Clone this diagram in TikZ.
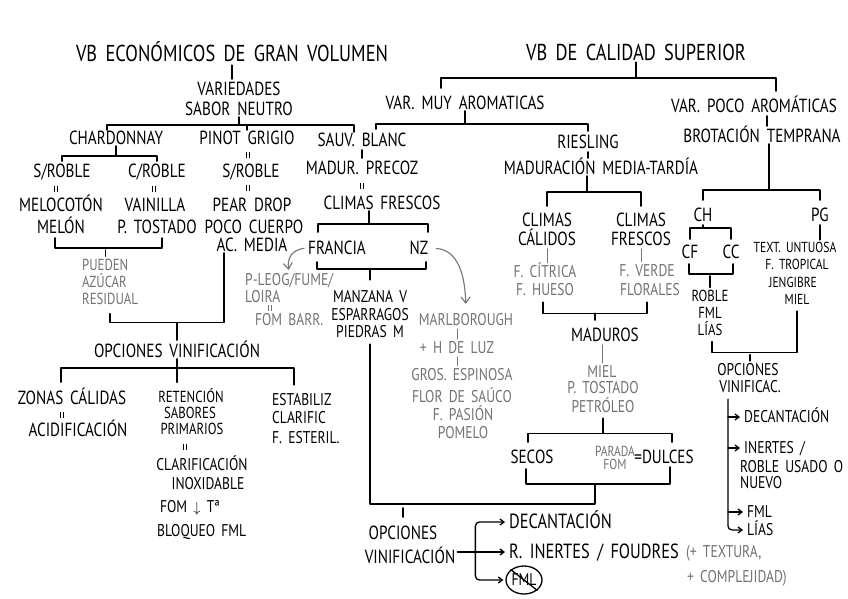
\documentclass[tikz,border=0pt]{standalone}
\usepackage{fontspec}
\setmainfont{PT Sans}[FakeStretch=0.8, WordSpace=1.7]
\usetikzlibrary{calc,shapes.geometric,arrows.meta}
\definecolor{gtxt}{gray}{0.45}
\newcommand\veqat[3][black]{\draw[#1,line width=1pt,line cap=butt] (#2-1.8,#3-3) -- (#2-1.8,#3+3) (#2+1.8,#3-3) -- (#2+1.8,#3+3);}
\tikzset{
 base/.style={inner xsep=1.5pt,inner ysep=0pt},
 ttl/.style={base,font=\fontsize{23}{26}\selectfont,text height=16pt,text depth=1pt},
 lbb/.style={base,font=\fontsize{20.5}{24}\selectfont,text height=14.5pt,text depth=1pt},
 lbl/.style={base,font=\fontsize{19}{22}\selectfont,text height=13.5pt,text depth=1pt},
 lbm/.style={base,font=\fontsize{17}{20}\selectfont,text height=12pt,text depth=1pt},
 lbs/.style={base,font=\fontsize{16}{18}\selectfont,text height=11pt,text depth=1pt},
 gl/.style={base,font=\fontsize{17}{20}\selectfont,text=gtxt,text height=12pt,text depth=1pt},
 gls/.style={base,font=\fontsize{16}{18}\selectfont,text=gtxt,text height=11pt,text depth=1pt},
 sm/.style={base,font=\fontsize{14.5}{17}\selectfont,text height=10pt,text depth=1pt},
 gsm/.style={sm,text=gtxt},
 tk/.style={shorten <=2pt,shorten >=2pt},
 gtk/.style={tk,draw=gtxt,line width=1pt},
 arr/.style={-{Straight Barb[length=4pt,width=6pt]},shorten >=2pt},
 garr/.style={draw=gtxt,line width=1.1pt,-{Straight Barb[length=6pt,width=9pt]}},
}
\begin{document}
\begin{tikzpicture}[x=1pt,y=-1pt,line width=1.3pt,line cap=round,line join=round]
\useasboundingbox (0,0) rectangle (848,599);
\fill[white] (0,0) rectangle (848,599);

% ---------- left tree ----------
\node[ttl] (t1) at (232,54) {VB ECONÓMICOS DE GRAN VOLUMEN};
\node[lbl] (v1) at (239,89) {VARIEDADES};
\node[lbl] (v2) at (239,109) {SABOR NEUTRO};
\node[lbl] (ch) at (116,138) {CHARDONNAY};
\node[lbl] (pg) at (247,138) {PINOT GRIGIO};
\node[lbl] (sb) at (362,140) {SAUV. BLANC};
\node[lbl] (sr1) at (62,171) {S/ROBLE};
\node[lbl] (cr1) at (157,171) {C/ROBLE};
\node[lbl] (sr2) at (251,171) {S/ROBLE};
\node[lbl] (me1) at (61,205) {MELOCOTÓN};
\node[lbl] (me2) at (61,227) {MELÓN};
\node[lbl] (va1) at (155,205) {VAINILLA};
\node[lbl] (va2) at (157,227) {P. TOSTADO};
\node[lbl] (pe1) at (252,205) {PEAR DROP};
\node[lbl] (pe2) at (254,227) {POCO CUERPO};
\node[lbl] (pe3) at (252,245) {AC. MEDIA};
\node[gls,anchor=west] (pu1) at (80,265) {PUEDEN};
\node[gls,anchor=west] (pu2) at (80,282) {AZÚCAR};
\node[gls,anchor=west] (pu3) at (80,299) {RESIDUAL};
\node[lbl] (ov) at (177,351) {OPCIONES VINIFICACIÓN};
\node[lbl] (zc) at (72,398) {ZONAS CÁLIDAS};
\node[lbl] (ac) at (78,430) {ACIDIFICACIÓN};
\node[lbs] (re1) at (191,397) {RETENCIÓN};
\node[lbs] (re2) at (190,413) {SABORES};
\node[lbs] (re3) at (192,429) {PRIMARIOS};
\node[lbm] (cl) at (202,465) {CLARIFICACIÓN};
\node[lbm] (inx) at (208,484) {INOXIDABLE};
\node[lbm,anchor=west] (fo) at (158,507) {FOM {\fontsize{14}{16}\selectfont$\downarrow$} Tª};
\node[lbm,anchor=west] (bl) at (155,531) {BLOQUEO FML};
\node[lbm,anchor=west] (es1) at (270,400) {ESTABILIZ};
\node[lbm,anchor=west] (es2) at (270,418) {CLARIFIC};
\node[lbm,anchor=west] (es3) at (270,438) {F. ESTERIL.};

\draw[tk] (t1.south) -- (t1.south |- v1.north);
\draw ([xshift=-9pt]ch.north) -- ++(0,-5) coordinate (b1) -| ([xshift=-8pt]sb.north);
\draw (v2.south) -- (v2.south |- b1);
\draw (pg.north |- b1) -- (pg.north);
\draw[shorten <=2pt,shorten >=2pt] (sr1.north) -- ++(0,-7) coordinate (b2) -| (cr1.north);
\draw (ch.south) -- (ch.south |- b2);
\veqat{248}{155}
\veqat{56}{189}
\veqat{154}{189}
\veqat{248}{188}
\draw[shorten <=3pt,shorten >=3pt] ([xshift=-6pt]me2.south) -- ++(0,13) coordinate (b3) -| ([xshift=5pt]va2.south);
\draw[tk] (pu1.north |- b3) -- (pu1.north);
\draw[shorten <=8pt] (pu3.south) -- ++(0,17) coordinate (b4) -| ([xshift=-28pt]pe3.south);
\draw[shorten >=3pt] (ov.north |- b4) -- (ov.north);
\draw[shorten <=8pt,shorten >=8pt] ([xshift=-11pt]zc.north) -- ++(0,-22) coordinate (b5) -| ([xshift=-8pt]es1.north);
\draw (ov.south) -- (ov.south |- b5);
\draw[shorten >=8pt] (ov.south |- b5) -- (ov.south |- re1.north);
\veqat{62}{415}
\veqat{185}{447}

% ---------- sauvignon blanc ----------
\node[lbl] (mp) at (362,168) {MADUR. PRECOZ};
\node[lbl] (cfr) at (382,203) {CLIMAS FRESCOS};
\node[lbl] (fr) at (337,248) {FRANCIA};
\node[lbl] (nz) at (419,248) {NZ};
\node[lbm] (mz1) at (370,297) {MANZANA V};
\node[lbm] (mz2) at (370,315) {ESPARRAGOS};
\node[lbm] (mz3) at (370,332) {PIEDRAS M};
\node[gl,anchor=west] (pl1) at (243,280) {P-LEOG/FUME/};
\node[gl,anchor=west] (pl2) at (243,297) {LOIRA};
\node[gl,anchor=west] (pl3) at (253,320) {FOM BARR.};
\node[gl] (mb) at (466,320) {MARLBOROUGH};
\node[gl] (hl) at (457,348) {+ H DE LUZ};
\node[gl] (ge) at (462,375) {GROS. ESPINOSA};
\node[gl] (fs) at (462,397) {FLOR DE SAÚCO};
\node[gl] (fp) at (463,415) {F. PASIÓN};
\node[gl] (po) at (463,433) {POMELO};

\draw[tk] (sb.south) -- (sb.south |- mp.north);
\veqat{362}{186}
\draw[shorten <=8pt,shorten >=8pt] ([xshift=-19pt]fr.north) -- ++(0,-16) coordinate (b6) -| ([xshift=9pt]nz.north);
\draw ([xshift=-13pt]cfr.south) -- ([xshift=-13pt]cfr.south |- b6);
\draw[shorten <=6pt,shorten >=6pt] ([xshift=-20pt]fr.south) -- ++(0,13) coordinate (b7) -| ([xshift=7pt]nz.south);
\draw[shorten >=10pt] (mz1.north |- b7) -- (mz1.north);
\veqat[gtxt]{270}{308}
\draw[garr,shorten <=2pt,shorten >=3pt] (fr.west) .. controls (292,250) and (287,258) .. (pl1.north);
\draw[garr,shorten <=6pt,shorten >=9pt] (nz.east) .. controls (458,250) and (465,275) .. (mb.north);
\draw[gtk] (hl.north |- mb.south) -- (hl.north);
\draw[gtk] (hl.south) -- (hl.south |- ge.north);

% ---------- calidad superior ----------
\node[ttl] (t2) at (636,53) {VB DE CALIDAD SUPERIOR};
\node[lbl] (vm) at (465,103) {VAR. MUY AROMATICAS};
\node[lbl] (vp) at (754,106) {VAR. POCO AROMÁTICAS};
\node[lbl] (bt) at (762,136) {BROTACIÓN TEMPRANA};
\node[lbl] (ri) at (588,142) {RIESLING};
\node[lbl] (md) at (601,168) {MADURACIÓN MEDIA-TARDÍA};
\node[lbl] (cc1) at (547,220) {CLIMAS};
\node[lbl] (cc2) at (547,239) {CÁLIDOS};
\node[lbl] (cf1) at (641,220) {CLIMAS};
\node[lbl] (cf2) at (641,239) {FRESCOS};
\node[gl] (fc1) at (545,272) {F. CÍTRICA};
\node[gl] (fc2) at (545,290) {F. HUESO};
\node[gl] (fv1) at (647,271) {F. VERDE};
\node[gl] (fv2) at (650,290) {FLORALES};
\node[lbl] (mad) at (605,335) {MADUROS};
\node[gl] (mi) at (602,372) {MIEL};
\node[gl] (pt) at (603,388) {P. TOSTADO};
\node[gl] (pet) at (603,407) {PETRÓLEO};
\node[lbl] (se) at (532,457) {SECOS};
\node[gsm] (pa1) at (615,452) {PARADA};
\node[gsm] (pa2) at (615,465) {FOM};
\node[lbl] (du) at (664,457) {=DULCES};

\draw[shorten <=7pt,shorten >=7pt] ([xshift=-24pt]vm.north) -- ++(0,-17) coordinate (b13) -| ([xshift=22pt]vp.north);
\draw (t2.south) -- (t2.south |- b13);
\draw[shorten <=3pt,shorten >=3pt] ([xshift=14pt]sb.north) -- ++(0,-8) coordinate (b14) -| (ri.north);
\draw (vm.south) -- (vm.south |- b14);
\draw[tk] (ri.south) -- (ri.south |- md.north);
\draw[shorten <=6pt,shorten >=6pt] (cc1.north) -- ++(0,-20) coordinate (b15) -| (cf1.north);
\draw ([xshift=-14pt]md.south) -- ([xshift=-14pt]md.south |- b15);
\draw[gtk] (cc2.south) -- (cc2.south |- fc1.north);
\draw[gtk] (cf2.south) -- (cf2.south |- fv1.north);
\draw[shorten <=5pt,shorten >=5pt] ([xshift=-2pt]fc2.south) -- ++(0,16) coordinate (b16) -| ([xshift=-3pt]fv2.south);
\draw[shorten >=7pt] ([xshift=-10pt]mad.north |- b16) -- ([xshift=-10pt]mad.north);
\draw[gtk] (mi.north |- mad.south) -- (mi.north);
\draw[shorten <=4pt] (pet.south) -- ++(0,19) coordinate (b17);
\draw[shorten <=7pt,shorten >=7pt] ([xshift=-4pt]se.north) -- ([xshift=-4pt]se.north |- b17) -| ([xshift=8pt]du.north);
\draw[shorten <=4pt,shorten >=2pt] ([xshift=-6pt]se.south) -- ++(0,19) coordinate (b10) -| ([xshift=6pt]du.south);
\coordinate (b11) at ($(b10)!0.5!(b10 -| du.south)$);
\path (b11) ++(0,20) coordinate (b12);
\draw[shorten <=5pt] (mz3.south) |- (b12) -- (b11);

% ---------- poco aromaticas ----------
\node[lbl] (chn) at (703,215) {CH};
\node[lbl] (pgn) at (820,215) {PG};
\node[lbl] (cfn) at (690,252) {CF};
\node[lbl] (ccn) at (731,252) {CC};
\node[lbs] (ro1) at (710,296) {ROBLE};
\node[lbs] (ro2) at (710,313) {FML};
\node[lbs] (ro3) at (710,330) {LÍAS};
\node[sm] (tx1) at (795,248) {TEXT. UNTUOSA};
\node[sm] (tx2) at (797,265) {F. TROPICAL};
\node[sm] (tx3) at (793,283) {JENGIBRE};
\node[sm] (tx4) at (797,300) {MIEL};
\node[lbm] (op1) at (748,370) {OPCIONES};
\node[lbm] (op2) at (750,387) {VINIFICAC.};
\node[lbm,anchor=west] (rd) at (742,417) {DECANTACIÓN};
\node[lbm,anchor=west] (ri1) at (742,448) {INERTES /};
\node[lbm,anchor=west] (ri2) at (738,467) {ROBLE USADO O};
\node[lbm,anchor=west] (ri3) at (738,483) {NUEVO};
\node[lbm,anchor=west] (rf) at (745,512) {FML};
\node[lbm,anchor=west] (rl) at (745,530) {LÍAS};

\draw[tk] ([xshift=13pt]vp.south) -- ([xshift=13pt]vp.south |- bt.north);
\draw[shorten <=7pt,shorten >=7pt] (chn.north) -- ++(0,-17) coordinate (b18) -| (pgn.north);
\draw ([xshift=7pt]bt.south) -- ([xshift=7pt]bt.south |- b18);
\draw[shorten <=5pt,shorten >=5pt] (cfn.north) -- ++(0,-16) coordinate (b19) -| (ccn.north);
\draw[shorten <=2pt] (chn.south) -- (chn.south |- b19);
\draw[shorten <=4pt,shorten >=4pt] ([xshift=-1pt]cfn.south) -- ++(0,14) coordinate (b20) -| ([xshift=2pt]ccn.south);
\draw[tk] (ro1.north |- b20) -- (ro1.north);
\draw[tk] (pgn.south) -- (pgn.south |- tx1.north);
\draw[shorten <=5pt,shorten >=5pt] ([xshift=2pt]ro3.south) -- ++(0,16) coordinate (b21) -| (tx4.south);
\draw[tk] ([xshift=2pt]op1.north |- b21) -- ([xshift=2pt]op1.north);
\coordinate (rv) at ($(op2.south)+(-22,5)$);
\draw[arr,rounded corners=4pt] (rv) |- (rl.west);
\draw[arr] (rv |- rd.west) -- (rd.west);
\draw[arr] (rv |- ri1.west) -- (ri1.west);
\draw[arr] (rv |- rf.west) -- (rf.west);

% ---------- bottom ----------
\node[lbl] (bo1) at (403,533) {OPCIONES};
\node[lbl] (bo2) at (410,557) {VINIFICACIÓN};
\node[lbb,anchor=west] (bd) at (507,522) {DECANTACIÓN};
\node[lbb,anchor=west] (bi) at (507,552) {R. INERTES / FOUDRES};
\node[gl,anchor=west] (bt1) at (684,552) {(+ TEXTURA,};
\node[gl,anchor=west] (bt2) at (685,577) {+ COMPLEJIDAD)};
\node[lbm,ellipse,draw,inner sep=0pt,minimum width=36,minimum height=28] (bf) at (524,580) {FML};
\draw (bf.north west) -- (bf.south east);

\draw[shorten <=4pt,shorten >=8pt] (bo1.north |- b12) -- (bo1.north);
\draw ([yshift=5pt]bo2.east) -- ++(18,0) coordinate (bj);
\draw[arr,rounded corners=4pt] (bj) |- (bd.west);
\draw[arr,rounded corners=4pt] (bj) |- (bf.west);
\draw[arr] (bj) -- (bj -| bi.west);
\end{tikzpicture}
\end{document}
